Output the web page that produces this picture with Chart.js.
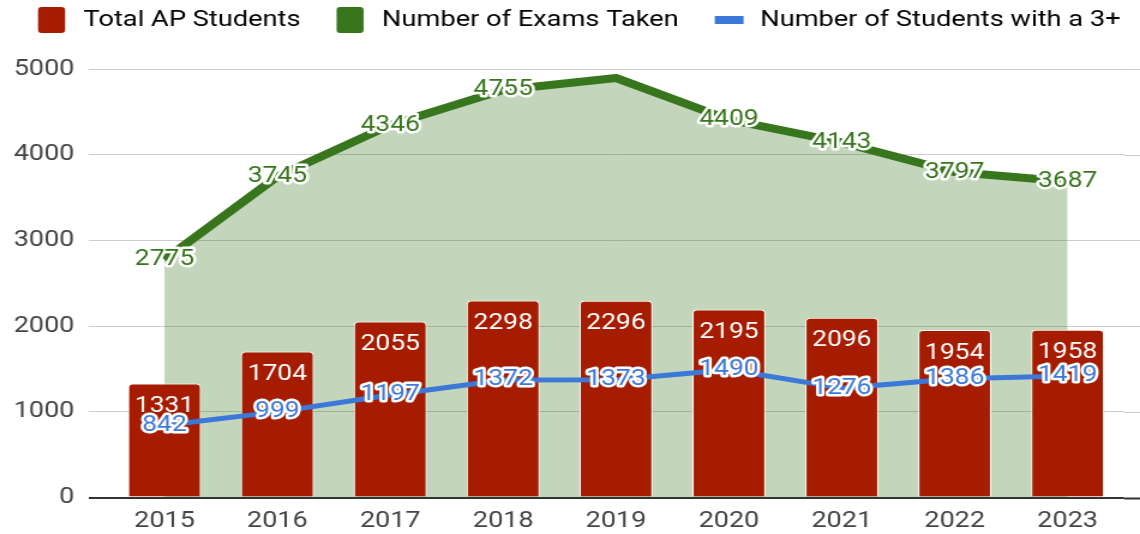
<!DOCTYPE html>
<html>
<head>
<meta charset="utf-8">
<script src="https://cdn.jsdelivr.net/npm/chart.js@4.4.0/dist/chart.umd.min.js"></script>
<style>
  html, body { margin: 0; padding: 0; background: #fff; overflow: hidden; }
  /* the reference text is horizontally wide, so the chart is drawn at 950px and stretched */
  #wrap { width: 950px; height: 534px; transform: scaleX(1.2); transform-origin: 0 0; }
</style>
</head>
<body>
<div id="wrap"><canvas id="apChart" width="950" height="534"></canvas></div>
<script>
const years = ['2015', '2016', '2017', '2018', '2019', '2020', '2021', '2022', '2023'];
const totalStudents = [1331, 1704, 2055, 2298, 2296, 2195, 2096, 1954, 1958];
const examsTaken = [2775, 3745, 4346, 4755, 4895, 4409, 4143, 3797, 3687];
const studentsWith3 = [842, 999, 1197, 1372, 1373, 1490, 1276, 1386, 1419];
const hiddenExamLabels = ['2019']; // not labelled in the original

const RED = '#a61c00';
const GREEN = '#38761d';
const BLUE = '#3c78d8';

Chart.defaults.font.family = 'Roboto';
Chart.defaults.font.size = 22;

// legend markers drawn by hand (boxes + short blue line)
const legendMarkers = {
    id: 'legendMarkers',
    beforeInit(chart) {
        const origFit = chart.legend.fit;
        chart.legend.fit = function() {
            origFit.call(this);
            this.height = 69;
        };
    },
    afterDraw(chart) {
        const ctx = chart.ctx;
        const boxes = chart.legend.legendHitBoxes;
        const colors = [RED, GREEN, BLUE];
        boxes.forEach((hb, i) => {
            const x = hb.left + 49.5 - 26.5;
            ctx.save();
            ctx.fillStyle = colors[i];
            ctx.beginPath();
            if (i < 2) {
                ctx.roundRect(x, hb.top, 22.5, 26, 3);
            } else {
                ctx.rect(x, hb.top + 9, 24, 8);
            }
            ctx.fill();
            ctx.restore();
        });
    }
};

// gridlines in the reference run to the right edge of the picture
const gridExtend = {
    id: 'gridExtend',
    beforeDatasetsDraw(chart) {
        const ctx = chart.ctx;
        const y = chart.scales.y;
        ctx.save();
        y.ticks.forEach(t => {
            const py = Math.round(y.getPixelForValue(t.value)) + 0.5;
            ctx.strokeStyle = t.value === 0 ? '#333333' : '#cccccc';
            ctx.lineWidth = t.value === 0 ? 2 : 1;
            ctx.beginPath();
            ctx.moveTo(chart.chartArea.right, py);
            ctx.lineTo(chart.width, py);
            ctx.stroke();
        });
        ctx.restore();
    }
};

const valueLabels = {
    id: 'valueLabels',
    afterDatasetsDraw(chart) {
        const ctx = chart.ctx;
        ctx.save();
        ctx.font = '22px Roboto';
        ctx.textAlign = 'center';
        ctx.textBaseline = 'middle';
        ctx.lineJoin = 'round';

        // bar values inside the top of each bar
        chart.getDatasetMeta(0).data.forEach((bar, i) => {
            ctx.fillStyle = '#ffffff';
            ctx.fillText(totalStudents[i], bar.x, bar.y + 23);
        });

        const outlined = (meta, values, color, skip) => {
            meta.data.forEach((pt, i) => {
                if (skip && skip.includes(years[i])) return;
                ctx.strokeStyle = '#ffffff';
                ctx.lineWidth = 5;
                ctx.strokeText(values[i], pt.x, pt.y);
                ctx.fillStyle = color;
                ctx.fillText(values[i], pt.x, pt.y);
            });
        };
        outlined(chart.getDatasetMeta(1), examsTaken, GREEN, hiddenExamLabels);
        outlined(chart.getDatasetMeta(2), studentsWith3, BLUE, null);
        ctx.restore();
    }
};

const ctx = document.getElementById('apChart').getContext('2d');
const apChart = new Chart(ctx, {
    type: 'bar',
    data: {
        labels: years,
        datasets: [{
            label: 'Total AP Students',
            data: totalStudents,
            backgroundColor: RED,
            borderColor: '#ffffff',
            borderWidth: 1,
            borderRadius: 4,
            borderSkipped: 'start',
            categoryPercentage: 1,
            barPercentage: 0.646,
            order: 1
        }, {
            type: 'line',
            label: 'Number of Exams Taken',
            data: examsTaken,
            borderColor: GREEN,
            backgroundColor: 'rgba(56, 118, 29, 0.3)',
            borderWidth: 8,
            fill: 'origin',
            pointRadius: 0,
            tension: 0,
            borderJoinStyle: 'round',
            order: 2
        }, {
            type: 'line',
            label: 'Number of Students with a 3+',
            data: studentsWith3,
            borderColor: BLUE,
            borderWidth: 5,
            fill: false,
            pointRadius: 0,
            tension: 0,
            borderJoinStyle: 'round',
            order: 0
        }]
    },
    options: {
        responsive: false,
        animation: false,
        layout: { padding: { left: 1.7, right: 0, top: 0, bottom: 0 } },
        plugins: {
            tooltip: { enabled: false },
            legend: {
                position: 'top',
                align: 'start',
                labels: {
                    color: '#222222',
                    font: { size: 22.7 },
                    boxWidth: 49.5,
                    boxHeight: 26,
                    padding: 7,
                    generateLabels(chart) {
                        return chart.data.datasets.map((ds, i) => ({
                            text: ds.label,
                            fillStyle: 'rgba(0,0,0,0)',
                            strokeStyle: 'rgba(0,0,0,0)',
                            lineWidth: 0,
                            datasetIndex: i
                        }));
                    }
                }
            }
        },
        scales: {
            x: {
                offset: true,
                grid: { display: false, drawTicks: false },
                border: { display: false },
                ticks: { color: '#444444', padding: 10.5, font: { size: 22.5 } },
                afterFit(scale) { scale.height = 36.5; }
            },
            y: {
                min: 0,
                max: 5000,
                ticks: {
                    stepSize: 1000,
                    color: '#444444',
                    padding: 12,
                    font: { size: 22.5 },
                    callback: v => String(v)
                },
                border: { display: false },
                grid: {
                    tickLength: 16,
                    color: c => c.tick && c.tick.value === 0 ? '#333333' : '#cccccc',
                    lineWidth: c => c.tick && c.tick.value === 0 ? 2 : 1
                },
                afterFit(scale) { scale.width = 88.3; }
            },
            // empty right-hand strip so the plot stops short of the edge
            yRight: {
                position: 'right',
                grid: { display: false },
                border: { display: false },
                ticks: { display: false },
                afterFit(scale) { scale.width = 13.3; }
            }
        }
    },
    plugins: [legendMarkers, gridExtend, valueLabels]
});
</script>
</body>
</html>
